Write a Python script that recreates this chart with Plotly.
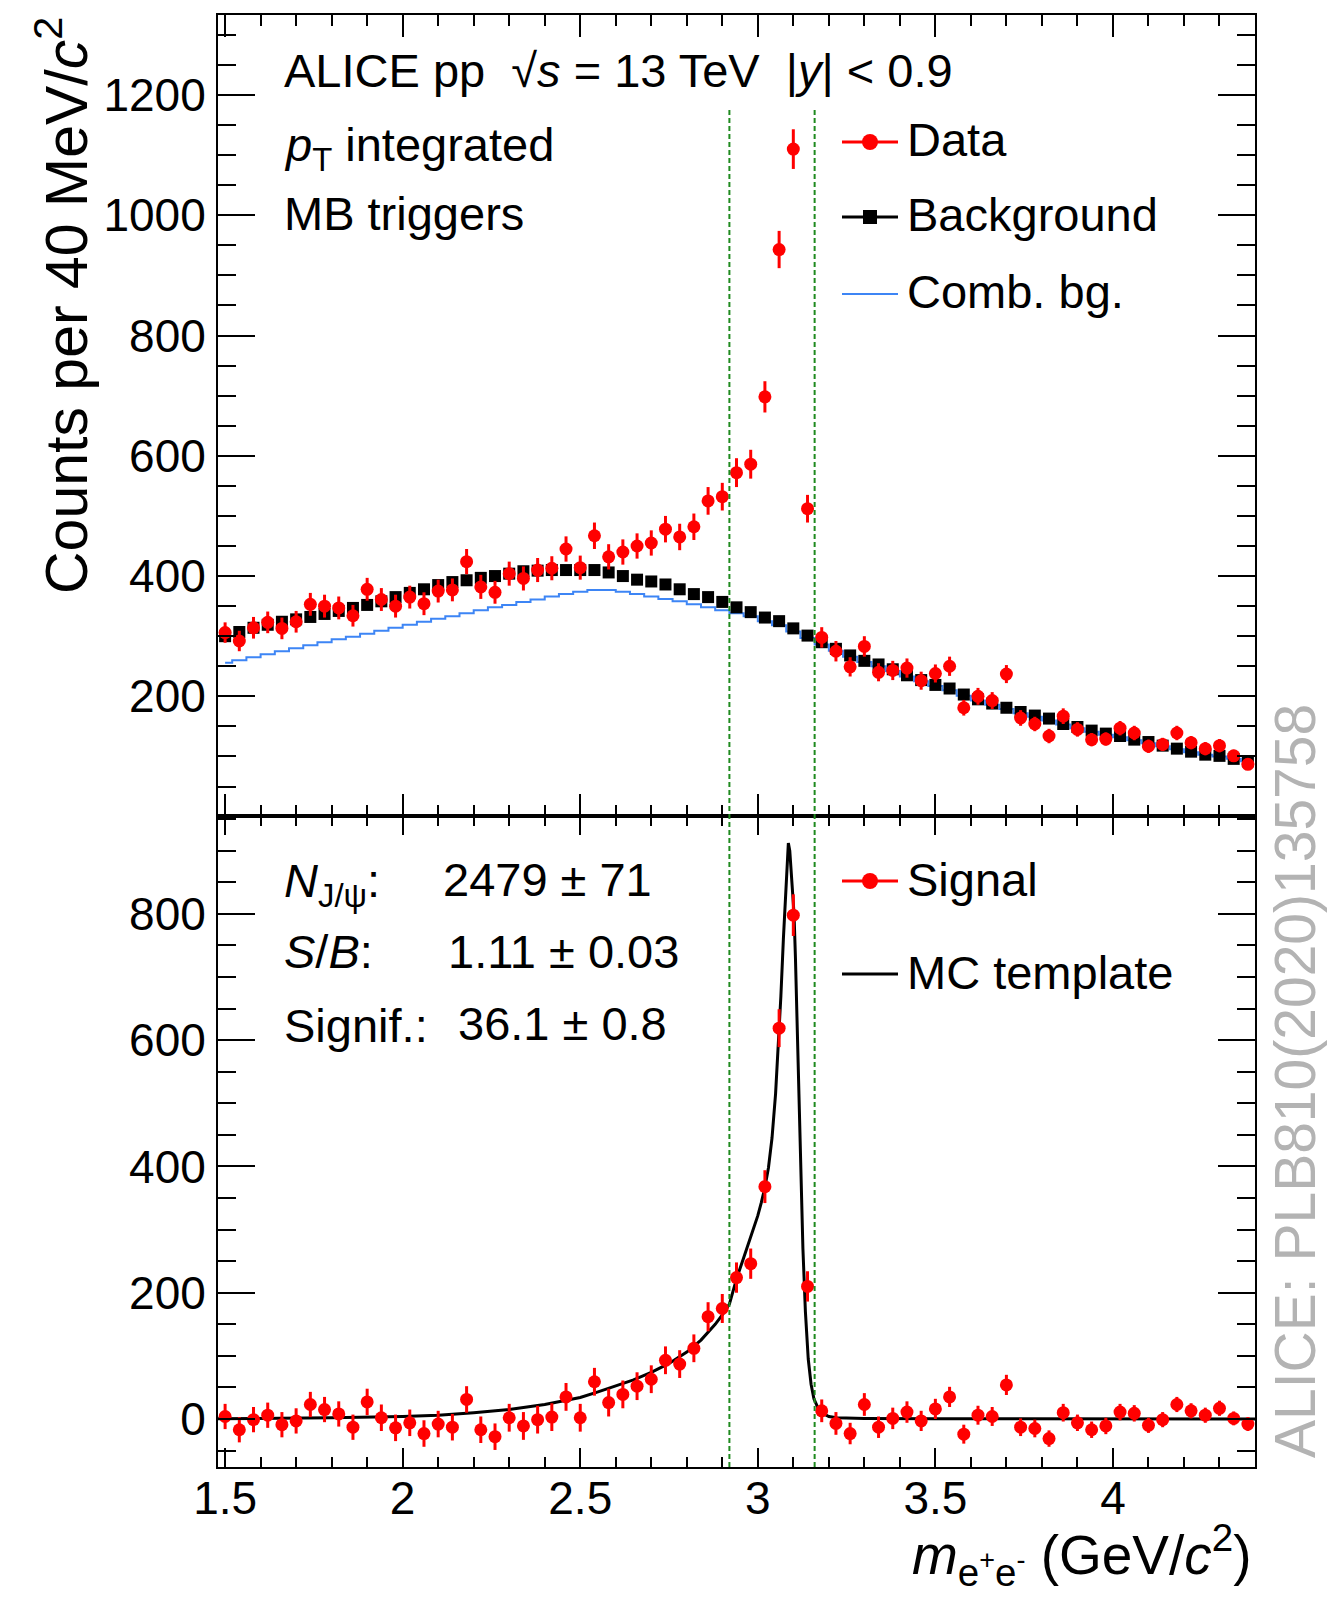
import plotly.graph_objects as go

# ---------------- data ----------------
mass = [1.50, 1.54, 1.58, 1.62, 1.66, 1.70, 1.74, 1.78, 1.82, 1.86,
        1.90, 1.94, 1.98, 2.02, 2.06, 2.10, 2.14, 2.18, 2.22, 2.26,
        2.30, 2.34, 2.38, 2.42, 2.46, 2.50, 2.54, 2.58, 2.62, 2.66,
        2.70, 2.74, 2.78, 2.82, 2.86, 2.90, 2.94, 2.98, 3.02, 3.06,
        3.10, 3.14, 3.18, 3.22, 3.26, 3.30, 3.34, 3.38, 3.42, 3.46,
        3.50, 3.54, 3.58, 3.62, 3.66, 3.70, 3.74, 3.78, 3.82, 3.86,
        3.90, 3.94, 3.98, 4.02, 4.06, 4.10, 4.14, 4.18, 4.22, 4.26,
        4.30, 4.34, 4.38]

data_counts = [306, 292, 314, 323, 313, 324, 353, 350, 347, 334,
               378, 361, 350, 365, 354, 375, 377, 424, 382, 373,
               404, 396, 410, 413, 445, 414, 467, 432, 440, 450,
               455, 478, 465, 482, 525, 532, 572, 586, 698, 943,
               1110, 512, 298, 275, 249, 283, 240, 243, 247, 226,
               238, 250, 181, 200, 193, 237, 164, 154, 134, 167,
               145, 128, 129, 147, 139, 117, 120, 139, 123, 113,
               118, 101, 87]

data_err = [17, 17, 18, 18, 18, 18, 19, 19, 19, 18,
            19, 19, 19, 19, 19, 19, 19, 21, 20, 19,
            20, 20, 20, 20, 21, 20, 22, 21, 21, 21,
            21, 22, 22, 22, 23, 23, 24, 24, 26, 31,
            33, 23, 17, 17, 16, 17, 15, 16, 16, 15,
            15, 16, 13, 14, 14, 15, 13, 12, 12, 13,
            12, 11, 11, 12, 12, 11, 11, 12, 11, 11,
            11, 10, 9]

background = [300, 307, 314, 319, 324, 328, 332, 337, 342, 347,
              352, 358, 365, 372, 378, 385, 390, 393, 397, 400,
              404, 408, 409, 410, 410, 410, 410, 406, 400, 394,
              391, 386, 378, 370, 365, 357, 348, 340, 331, 325,
              313, 301, 290, 279, 268, 259, 253, 245, 235, 227,
              219, 213, 203, 195, 188, 181, 174, 168, 163, 154,
              149, 143, 138, 134, 128, 124, 118, 113, 108, 103,
              101, 96, 92]

comb_bg = [256, 260, 265, 270, 275, 280, 285, 290, 295, 299,
           304, 309, 314, 319, 324, 329, 333, 338, 343, 348,
           352, 357, 361, 366, 370, 374, 377, 377, 374, 370,
           366, 362, 358, 353, 348, 343, 338, 333, 325, 318,
           308, 297, 286, 276, 266, 257, 250, 242, 233, 225,
           217, 210, 201, 193, 186, 179, 172, 166, 160, 153,
           147, 141, 136, 132, 127, 122, 117, 112, 107, 103,
           100, 96, 92]

signal = [4, -17, -1, 6, -9, -3, 23, 15, 8, -13,
          27, 2, -14, -6, -23, -8, -13, 31, -17, -28,
          2, -11, -1, 3, 35, 2, 59, 26, 39, 52,
          63, 93, 87, 112, 162, 175, 224, 246, 368, 619,
          798, 210, 13, -7, -23, 23, -13, 1, 11, -3,
          16, 35, -24, 6, 4, 54, -13, -15, -31, 10,
          -6, -17, -11, 11, 9, -10, -1, 23, 13, 6,
          17, 1, -8]

signal_err = [20, 20, 20, 20, 20, 20, 20, 20, 20, 20,
              21, 21, 21, 21, 21, 21, 21, 21, 21, 21,
              22, 22, 22, 22, 22, 22, 22, 22, 22, 22,
              22, 22, 22, 22, 23, 23, 24, 24, 26, 30,
              33, 24, 18, 18, 17, 18, 17, 17, 17, 16,
              16, 16, 15, 15, 15, 16, 14, 14, 13, 14,
              13, 13, 13, 13, 13, 12, 12, 12, 12, 12,
              12, 11, 11]

mc_mass = [1.48, 1.60, 1.80, 2.00, 2.10, 2.20, 2.30, 2.40, 2.45, 2.50,
           2.55, 2.60, 2.65, 2.70, 2.75, 2.80, 2.84, 2.88, 2.90, 2.92,
           2.94, 2.96, 2.98, 3.00, 3.01, 3.02, 3.03, 3.04, 3.05, 3.058,
           3.065, 3.072, 3.078, 3.082, 3.086, 3.090, 3.094, 3.098, 3.102, 3.106,
           3.110, 3.114, 3.118, 3.122, 3.127, 3.134, 3.142, 3.150, 3.158, 3.170,
           3.186, 3.200, 3.223, 3.30, 3.50, 4.40]
mc_template = [0.5, 1, 2, 4, 6, 10, 15, 23, 28, 34,
               43, 52, 62, 74, 88, 106, 125, 150, 165, 182,
               222, 255, 288, 322, 343, 367, 398, 445, 515, 590,
               670, 760, 830, 875, 912, 900, 870, 835, 800, 730,
               645, 545, 450, 360, 270, 170, 95, 55, 32, 17,
               8, 4, 2, 1, 0.5, 0]

window = [2.92, 3.16]

x_ticks = [1.5, 2, 2.5, 3, 3.5, 4]
x_tick_labels = ["1.5", "2", "2.5", "3", "3.5", "4"]

# ---------------- layout geometry ----------------
W, H = 1327, 1599
PL, PR, PT, PB = 218, 1255, 15, 1467
SPLIT = 816  # pixel row of the boundary between the two pads


def px(x):
    return (x - PL) / (PR - PL)


def py(y):
    return (PB - y) / (PB - PT)


FONT = "Liberation Sans, Arial, Helvetica, sans-serif"
RED = "#ff0000"
BLUE = "#3d85f5"
GREEN = "#1f8a1f"

fig = go.Figure()

# top pad
fig.add_trace(go.Scatter(x=mass, y=comb_bg, mode="lines", line=dict(color=BLUE, width=2, shape="hvh"),
                         xaxis="x", yaxis="y", showlegend=False))
fig.add_trace(go.Scatter(x=mass, y=background, mode="markers",
                         marker=dict(symbol="square", size=12, color="black"),
                         xaxis="x", yaxis="y", showlegend=False))
fig.add_trace(go.Scatter(x=mass, y=data_counts, mode="markers",
                         marker=dict(symbol="circle", size=13, color=RED),
                         error_y=dict(type="data", array=data_err, color=RED, thickness=3, width=0),
                         xaxis="x", yaxis="y", showlegend=False))

# bottom pad
fig.add_trace(go.Scatter(x=mc_mass, y=mc_template, mode="lines", line=dict(color="black", width=3),
                         xaxis="x2", yaxis="y2", showlegend=False))
fig.add_trace(go.Scatter(x=mass, y=signal, mode="markers",
                         marker=dict(symbol="circle", size=13, color=RED),
                         error_y=dict(type="data", array=signal_err, color=RED, thickness=3, width=0),
                         xaxis="x2", yaxis="y2", showlegend=False))

split_paper = py(SPLIT)

common_axis = dict(showline=True, linecolor="black", linewidth=2, mirror="allticks",
                   ticks="inside", tickcolor="black", tickwidth=2, showgrid=False, zeroline=False,
                   tickfont=dict(family=FONT, size=46, color="black"))

fig.update_layout(
    width=W, height=H,
    margin=dict(l=PL, r=W - PR, t=PT, b=H - PB),
    plot_bgcolor="white", paper_bgcolor="white",
    xaxis=dict(common_axis, domain=[0, 1], range=[1.48, 4.40], anchor="y", matches="x2",
               tickmode="linear", tick0=1.5, dtick=0.5, ticklen=22, showticklabels=False,
               minor=dict(dtick=0.1, tick0=1.5, ticklen=11, ticks="inside", tickcolor="black", tickwidth=2)),
    yaxis=dict(common_axis, domain=[split_paper, 1], range=[1, 1333], anchor="x",
               tickmode="linear", tick0=0, dtick=200, ticklen=37, ticklabelstandoff=1,
               minor=dict(dtick=50, tick0=0, ticklen=18, ticks="inside", tickcolor="black", tickwidth=2)),
    xaxis2=dict(common_axis, domain=[0, 1], range=[1.48, 4.40], anchor="y2",
                tickmode="array", tickvals=x_ticks, ticktext=x_tick_labels, ticklen=19, ticklabelstandoff=-10,
                minor=dict(dtick=0.1, tick0=1.5, ticklen=10, ticks="inside", tickcolor="black", tickwidth=2)),
    yaxis2=dict(common_axis, domain=[0, split_paper], range=[-76, 955], anchor="x2",
                tickmode="linear", tick0=0, dtick=200, ticklen=37, ticklabelstandoff=1,
                minor=dict(dtick=50, tick0=0, ticklen=18, ticks="inside", tickcolor="black", tickwidth=2)),
)

shapes = []
# signal window lines spanning both pads
for xv in window:
    shapes.append(dict(type="line", xref="x2", yref="paper", x0=xv, x1=xv, y0=0, y1=py(107),
                       line=dict(color=GREEN, width=2, dash="5px,3px"), layer="above"))

# legend glyphs
LX0, LX1, LXC = 842, 898, 870


def leg_line(y, color, width):
    shapes.append(dict(type="line", xref="paper", yref="paper", x0=px(LX0), x1=px(LX1), y0=py(y), y1=py(y),
                       line=dict(color=color, width=width)))


def leg_marker(y, kind, color, r):
    shapes.append(dict(type=kind, xref="paper", yref="paper", xsizemode="pixel", ysizemode="pixel",
                       xanchor=px(LXC), yanchor=py(y), x0=-r, x1=r, y0=-r, y1=r,
                       fillcolor=color, line=dict(width=0)))


leg_line(142, RED, 3)
leg_marker(142, "circle", RED, 8)
leg_line(217, "black", 3)
leg_marker(217, "rect", "black", 7)
leg_line(294, BLUE, 2)
leg_line(881, RED, 3)
leg_marker(881, "circle", RED, 8)
leg_line(974, "black", 3)

fig.update_layout(shapes=shapes)

annotations = []


def text(x, y, s, size=47, anchor="left", color="black", angle=0):
    annotations.append(dict(xref="paper", yref="paper", x=px(x), y=py(y), text=s, showarrow=False,
                            xanchor=anchor, yanchor="middle", textangle=angle,
                            font=dict(family=FONT, size=size, color=color)))


text(282, 71, "ALICE pp  √<i>s</i> = 13 TeV  |<i>y</i>| &lt; 0.9")
text(282, 148, "<i>p</i><sub>T</sub> integrated")
text(282, 214, "MB triggers")
text(905, 140, "Data")
text(905, 215, "Background")
text(905, 291, "Comb. bg.")
text(905, 879, "Signal")
text(905, 972, "MC template")
text(282, 884, "<i>N</i><sub>J/ψ</sub>:")
text(441, 879, "2479 ± 71")
text(282, 951, "<i>S</i>/<i>B</i>:")
text(446, 951, "1.11 ± 0.03")
text(282, 1025, "Signif.:")
text(456, 1023, "36.1 ± 0.8")

# axis titles
text(62, 306, "Counts per 40 MeV/<i>c</i><sup>2</sup>", size=59, anchor="center", angle=-90)
annotations.append(dict(xref="paper", yref="paper", x=px(1254), y=py(1555),
                        text="<i>m</i><sub>e<sup>+</sup>e<sup>-</sup></sub> (GeV/<i>c</i><sup>2</sup>)",
                        showarrow=False, xanchor="right", yanchor="middle",
                        font=dict(family=FONT, size=55, color="black")))
# side label
text(1295, 1081, "ALICE: PLB810(2020)135758", size=57, anchor="center", color="#b3b3b3", angle=-90)

fig.update_layout(annotations=annotations)

fig.write_html("out.html")
